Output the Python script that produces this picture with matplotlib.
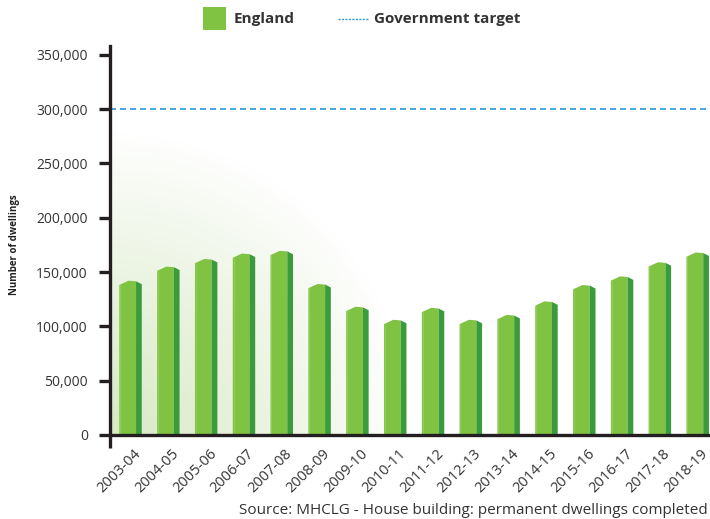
import numpy as np
import matplotlib
matplotlib.use("Agg")
import matplotlib.pyplot as plt
from matplotlib.patches import Rectangle
from matplotlib.lines import Line2D

years = ["2003-04", "2004-05", "2005-06", "2006-07", "2007-08", "2008-09",
         "2009-10", "2010-11", "2011-12", "2012-13", "2013-14", "2014-15",
         "2015-16", "2016-17", "2017-18", "2018-19"]
dwellings = [142000, 155000, 162000, 167000, 169500, 139000,
             118000, 106000, 117000, 106000, 110500, 123000,
             138000, 146000, 159000, 168000]
target = 300000
yticks = [0, 50000, 100000, 150000, 200000, 250000, 300000, 350000]

W, H = 710, 519
fig = plt.figure(figsize=(W / 100, H / 100), dpi=100)
ax_l, ax_r, ax_b, ax_t = 110, 710, 435, 46
ax = fig.add_axes([ax_l / W, 1 - ax_b / H, (ax_r - ax_l) / W, (ax_b - ax_t) / H])

ymax = 358000
xmin, xmax = -0.468, 15.40
ax.set_xlim(xmin, xmax)
ax.set_ylim(0, ymax)

ax_wpx = ax_r - ax_l
ax_hpx = ax_b - ax_t
py = ymax / ax_hpx  # data units per pixel (y)

# radial gradient background
nx, ny = 600, 389
xx, yy = np.meshgrid(np.arange(nx), np.arange(ny)[::-1])
d = np.sqrt(xx ** 2 + yy ** 2)
R = 300.0
a = np.clip(1 - d / R, 0, 1) ** 0.9
c0 = np.array([1.0, 1.0, 1.0])
c1 = np.array([0xD8, 0xE9, 0xC6]) / 255
img = c0[None, None, :] * (1 - a[..., None]) + c1[None, None, :] * a[..., None]
ax.imshow(img, extent=[0, 1, 0, 1], transform=ax.transAxes, aspect="auto",
          zorder=0, origin="upper")

front_c = "#80C242"
front_edge = "#8FCC58"
side_c = "#3A9B3C"
fw = 0.221
sw = 0.151
for i, v in enumerate(dwellings):
    x0, x1, x2 = i - fw, i + fw, i + fw + sw
    # front face with beveled top
    xs = [x0, x0, x0 + 0.55 * (x1 - x0), x1, x1]
    ys = [0, v - 4.3 * py, v, v - 0.6 * py, 0]
    ax.fill(xs, ys, color=front_c, lw=0, zorder=2)
    # light left edge
    ax.plot([x0 + 0.02, x0 + 0.02], [0, v - 4.3 * py], color=front_edge, lw=1.0, zorder=3)
    # side face
    xs = [x1, x1, x2, x2]
    ys = [0, v - 0.6 * py, v - 3.5 * py, 0]
    ax.fill(xs, ys, color=side_c, lw=0, zorder=2)

ax.plot([xmin, xmax], [target, target], color="#2A9AD8", lw=1.2,
        dashes=(3.6, 2.4), zorder=3)

for s in ["top", "right"]:
    ax.spines[s].set_visible(False)
for s in ["left", "bottom"]:
    ax.spines[s].set_linewidth(2.4)
    ax.spines[s].set_color("#231F20")
    ax.spines[s].set_zorder(5)

lab_font = "Open Sans"
ax.set_yticks(yticks)
ax.set_yticklabels([f"{t:,}" for t in yticks], fontsize=10, color="#333333",
                   family=lab_font)
ax.tick_params(axis="y", length=8, width=2.4, color="#231F20", pad=8)

ax.set_xticks(np.arange(len(years)) + 0.15)
ax.set_xticklabels(years, rotation=45, ha="right", rotation_mode="anchor",
                   fontsize=10.5, color="#333333", family=lab_font)
ax.tick_params(axis="x", length=0, pad=8)
ax.set_xticks([xmin], minor=True)
ax.tick_params(axis="x", which="minor", length=9, width=2.4, color="#231F20")

fig.text(14 / W, 1 - 245 / H, "Number of dwellings", rotation=90, fontsize=7,
         fontweight="bold", color="#222222", ha="center", va="center",
         family=lab_font)

# legend
fig.patches.append(Rectangle((203 / W, 1 - 30 / H), 23 / W, 23 / H,
                             transform=fig.transFigure, color=front_c, lw=0))
fig.text(234 / W, 1 - 19 / H, "England", fontsize=11, fontweight="bold",
         color="#333333", ha="left", va="center", family=lab_font)
fig.add_artist(Line2D([338 / W, 368 / W], [1 - 19 / H, 1 - 19 / H],
                      transform=fig.transFigure, color="#2A9AD8", lw=1.0,
                      dashes=(1.5, 1.0)))
fig.text(374 / W, 1 - 19 / H, "Government target", fontsize=11,
         fontweight="bold", color="#333333", ha="left", va="center",
         family=lab_font)

fig.text(708 / W, 1 - 510 / H, "Source: MHCLG - House building: permanent dwellings completed",
         fontsize=11, color="#333333", ha="right", va="center", family=lab_font)

fig.savefig("out.png", dpi=100)
